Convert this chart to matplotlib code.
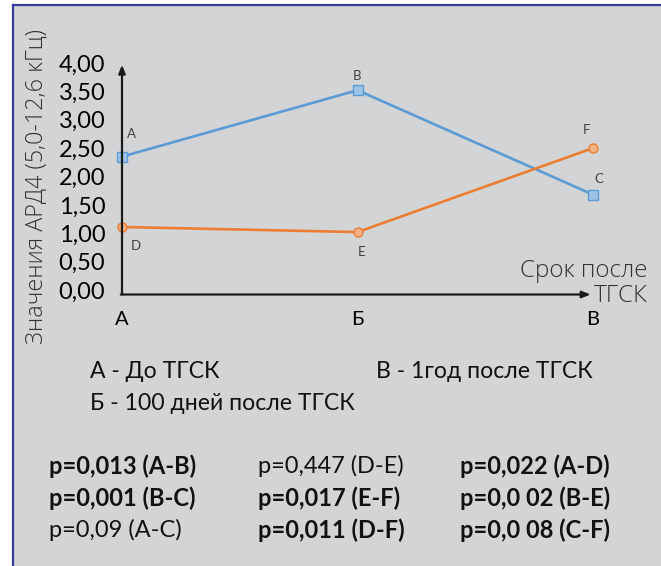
import numpy as np
import matplotlib.pyplot as plt
from matplotlib.lines import Line2D

plt.rcParams['font.family'] = ['Lato', 'DejaVu Sans']

W, H = 661, 566

# periods on the x axis
periods = ["А", "Б", "В"]
legend_lines = ["А - До ТГСК", "В - 1год после ТГСК", "Б - 100 дней после ТГСК"]

# series
blue_vals = [2.35, 3.52, 1.68]
blue_tags = ["A", "B", "C"]
orange_vals = [1.11, 1.02, 2.50]
orange_tags = ["D", "E", "F"]

y_ticks = [0.0, 0.5, 1.0, 1.5, 2.0, 2.5, 3.0, 3.5, 4.0]

# p-value table: (text, bold)
p_rows = [
    [("p=0,013 (A-B)", True), ("p=0,447 (D-E)", False), ("p=0,022 (A-D)", True)],
    [("p=0,001 (B-C)", True), ("p=0,017 (E-F)", True), ("p=0,0 02 (B-E)", True)],
    [("p=0,09 (A-C)", False), ("p=0,011 (D-F)", True), ("p=0,0 08 (C-F)", True)],
]

BG = "#D3D4D6"
BLUE = "#5B9BD5"
BLUE_FILL = "#9DC3E6"
ORANGE = "#ED7D31"
ORANGE_FILL = "#F4B183"
TXT = "#404040"
THIN = ["Open Sans", "DejaVu Sans"]


def fx(px):
    return px / W


def fy(py):
    return 1 - py / H


fig = plt.figure(figsize=(W / 100, H / 100), dpi=100)
fig.patch.set_facecolor("white")

# gray panel with navy border on top and left
fig.add_artist(plt.Rectangle((fx(12), 0), 1, fy(5), transform=fig.transFigure,
                             facecolor=BG, edgecolor="none", zorder=0))
fig.add_artist(Line2D([fx(12.5), 1], [fy(5), fy(5)], color="#3A3C9C", lw=1.6))
fig.add_artist(Line2D([fx(12.5), fx(12.5)], [0, fy(5)], color="#3A3C9C", lw=1.6))

# axes: x 0 -> 122px, 2 -> 593px ; y 4 -> 63px, -0.08 -> 294.5px
y_lo, y_hi = -0.08, 4.0
ax = fig.add_axes([fx(122), fy(294.5), fx(593) - fx(122), (294.5 - 63) / H])
ax.set_xlim(0, 2)
ax.set_ylim(y_lo, y_hi)
ax.patch.set_alpha(0)
for s in ax.spines.values():
    s.set_visible(False)

x = np.arange(len(periods))

ax.plot(x, blue_vals, color=BLUE, lw=1.9, marker="s", ms=6.5,
        mfc=BLUE_FILL, mec=BLUE, mew=1.0, clip_on=False, zorder=3)
ax.plot(x, orange_vals, color=ORANGE, lw=1.9, marker="o", ms=6.5,
        mfc=ORANGE_FILL, mec=ORANGE, mew=1.0, clip_on=False, zorder=3)

# point tags
blue_off = [(7, 16), (0, 10), (4, 11)]
orange_off = [(10, -14), (3, -14), (-5, 13)]
for xi, v, t, o in zip(x, blue_vals, blue_tags, blue_off):
    ax.annotate(t, (xi, v), xytext=o, textcoords="offset points",
                ha="center", va="center", fontsize=9.5, color=TXT)
for xi, v, t, o in zip(x, orange_vals, orange_tags, orange_off):
    ax.annotate(t, (xi, v), xytext=o, textcoords="offset points",
                ha="center", va="center", fontsize=9.5, color=TXT)

# drawn axes with arrows
arrow = dict(arrowstyle="-|>,head_length=0.5,head_width=0.2", color="#1A1A1A",
             lw=1.6, shrinkA=0, shrinkB=0)
ax.annotate("", xy=(0, 3.97), xytext=(0, y_lo), arrowprops=arrow, annotation_clip=False)
ax.annotate("", xy=(1.99, y_lo), xytext=(-0.005, y_lo), arrowprops=arrow, annotation_clip=False)

ax.set_yticks(y_ticks)
ax.set_yticklabels([f"{v:.2f}".replace(".", ",") for v in y_ticks], fontsize=17)
ax.set_xticks(x)
ax.set_xticklabels(periods, fontsize=14.5)
ax.tick_params(axis="y", length=0, pad=12)
ax.tick_params(axis="x", length=0, pad=12)

fig.text(fx(37), fy(187), "Значения АРД4 (5,0-12,6 кГц)", rotation=90,
         ha="center", va="center", fontsize=16.8, color="#333333", fontweight="light",
         family=THIN)
fig.text(fx(648), fy(271), "Срок после", ha="right", va="center",
         fontsize=17.5, color="#333333", fontweight="light", family=THIN)
fig.text(fx(648), fy(296), "ТГСК", ha="right", va="center",
         fontsize=17.5, color="#333333", fontweight="light", family=THIN)

# legend of periods
fig.text(fx(90), fy(372), legend_lines[0], ha="left", va="center", fontsize=16.6, color="#111111")
fig.text(fx(376), fy(372), legend_lines[1], ha="left", va="center", fontsize=16.6, color="#111111")
fig.text(fx(90), fy(404), legend_lines[2], ha="left", va="center", fontsize=16.6, color="#111111")

# p-values
col_x = [49, 258, 460]
row_y = [466, 498, 530]
for r, row in enumerate(p_rows):
    for c, (txt, bold) in enumerate(row):
        fig.text(fx(col_x[c]), fy(row_y[r]), txt, ha="left", va="center", fontsize=17,
                 fontweight="bold" if bold else "normal", color="#111111")

fig.savefig("out.png", dpi=100, facecolor=fig.get_facecolor())
